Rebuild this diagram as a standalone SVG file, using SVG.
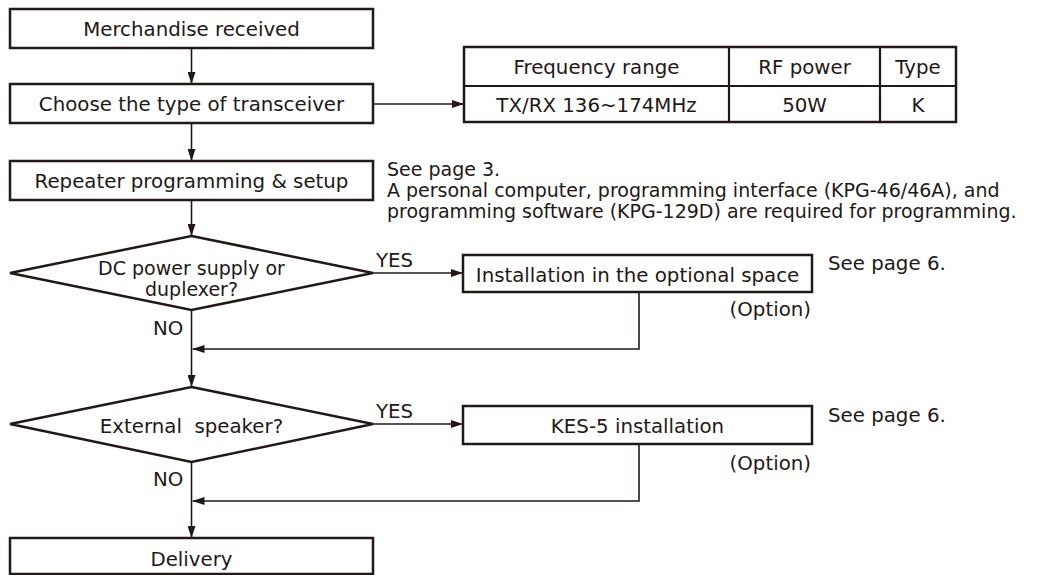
<svg xmlns="http://www.w3.org/2000/svg" width="1061" height="575" viewBox="0 0 1061 575">
<defs>
<marker id="ah" markerWidth="12" markerHeight="8" refX="12" refY="4" orient="auto" markerUnits="userSpaceOnUse">
<path d="M0,0 L12,4 L0,8 Z" fill="#231815"/>
</marker>
<style>
.box{fill:#fff;stroke:#231815;stroke-width:2.5}
.dia{fill:#fff;stroke:#231815;stroke-width:2.5}
.ln{fill:none;stroke:#231815;stroke-width:1.6}
.tl{fill:none;stroke:#231815;stroke-width:2.2}
text{font-family:"DejaVu Sans","Liberation Sans",sans-serif;font-size:19.8px;fill:#231815}
.sm{font-size:19px}
.c{text-anchor:middle}
.r{text-anchor:end}
.pre{white-space:pre}
</style>
</defs>
<rect width="1061" height="575" fill="#fff"/>
<g id="connectors">
<line class="ln" x1="191.5" y1="48" x2="191.5" y2="84" marker-end="url(#ah)"/>
<line class="ln" x1="373" y1="104" x2="464" y2="104" marker-end="url(#ah)"/>
<line class="ln" x1="191.5" y1="123" x2="191.5" y2="161" marker-end="url(#ah)"/>
<line class="ln" x1="191.5" y1="200" x2="191.5" y2="236" marker-end="url(#ah)"/>
<line class="ln" x1="373" y1="273" x2="463" y2="273" marker-end="url(#ah)"/>
<line class="ln" x1="191.5" y1="310" x2="191.5" y2="387" marker-end="url(#ah)"/>
<polyline class="ln" points="639,292 639,349 192.5,349" marker-end="url(#ah)"/>
<line class="ln" x1="373" y1="424" x2="463" y2="424" marker-end="url(#ah)"/>
<line class="ln" x1="191.5" y1="462" x2="191.5" y2="538" marker-end="url(#ah)"/>
<polyline class="ln" points="639,444 639,501 192.5,501" marker-end="url(#ah)"/>
<text x="376" y="267">YES</text>
<text x="153" y="335">NO</text>
<text x="376" y="418">YES</text>
<text x="153" y="486">NO</text>
</g>
<g id="merchandise">
<rect class="box" x="10" y="9" width="363" height="39"/>
<text class="c" x="191.5" y="36">Merchandise received</text>
</g>
<g id="choose">
<rect class="box" x="10" y="84" width="363" height="39"/>
<text class="c" x="191.5" y="111">Choose the type of transceiver</text>
</g>
<g id="table">
<rect class="box" x="464" y="47" width="492" height="75"/>
<line class="tl" x1="464" y1="86" x2="956" y2="86"/>
<line class="tl" x1="729" y1="47" x2="729" y2="122"/>
<line class="tl" x1="880" y1="47" x2="880" y2="122"/>
<text class="c" x="596.5" y="74">Frequency range</text>
<text class="c" x="804.5" y="74">RF power</text>
<text class="c" x="918" y="74">Type</text>
<text class="c" x="596.5" y="112">TX/RX 136~174MHz</text>
<text class="c" x="804.5" y="112">50W</text>
<text class="c" x="918" y="112">K</text>
</g>
<g id="repeater">
<rect class="box" x="10" y="161" width="363" height="39"/>
<text class="c" x="191.5" y="188">Repeater programming &amp; setup</text>
</g>
<g id="note-programming">
<text class="sm" x="387" y="176">See page 3.</text>
<text class="sm" x="387" y="197">A personal computer, programming interface (KPG-46/46A), and</text>
<text class="sm" x="387" y="218">programming software (KPG-129D) are required for programming.</text>
</g>
<g id="dc-decision">
<polygon class="dia" points="191.5,236 373,273 191.5,310 10,273"/>
<text class="c sm" x="191.5" y="275">DC power supply or</text>
<text class="c sm" x="191.5" y="296">duplexer?</text>
</g>
<g id="install-option">
<rect class="box" x="463" y="255" width="349" height="37"/>
<text class="c" x="637.5" y="282">Installation in the optional space</text>
<text x="828" y="270">See page 6.</text>
<text class="r" x="811" y="316">(Option)</text>
</g>
<g id="speaker-decision">
<polygon class="dia" points="191.5,387 373,424 191.5,462 10,424"/>
<text class="c pre" x="191.5" y="433">External  speaker?</text>
</g>
<g id="kes5">
<rect class="box" x="463" y="406" width="349" height="38"/>
<text class="c" x="637.5" y="433">KES-5 installation</text>
<text x="828" y="422">See page 6.</text>
<text class="r" x="811" y="470">(Option)</text>
</g>
<g id="delivery">
<rect class="box" x="10" y="538" width="363" height="36"/>
<text class="c" x="191.5" y="566">Delivery</text>
</g>
</svg>
